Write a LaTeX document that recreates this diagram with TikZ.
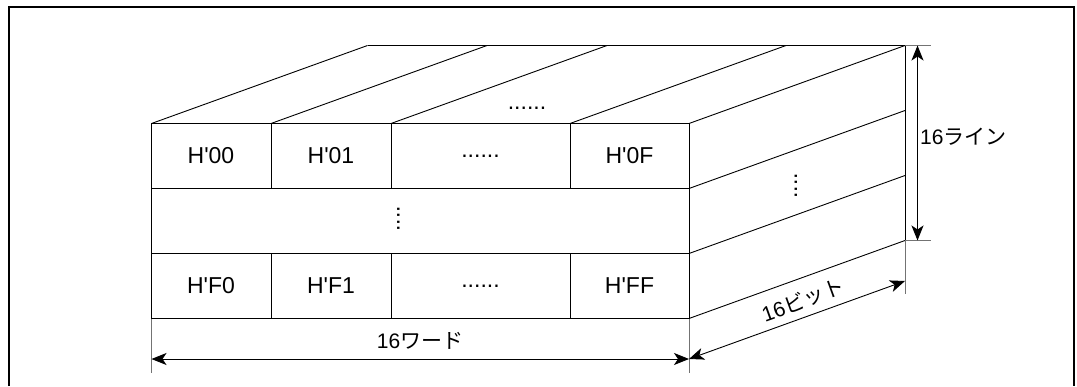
\documentclass[tikz,border=0pt]{standalone}
\usepackage{fontspec}
\setmainfont{Liberation Sans}
\newfontfamily\jpfont{Noto Sans CJK JP}
\usetikzlibrary{arrows.meta}

\newcommand\pktreihe{......}

\tikzset{
  cube/.style={line width=0.9pt},
  ext/.style={line width=0.8pt, black!55},
  dim/.style={line width=0.9pt,
    {Stealth[length=15pt,width=12pt,inset=4pt]}-{Stealth[length=15pt,width=12pt,inset=4pt]}},
  lbl/.style={font=\fontsize{21}{25}\selectfont, inner sep=0pt},
  cell/.style={font=\fontsize{23}{27}\selectfont, inner sep=0pt},
}

\begin{document}
\begin{tikzpicture}[x=1pt,y=-1pt]
    \useasboundingbox (0,0) rectangle (1077,386);
    % Rahmen
    \draw[line width=1.6pt] (9,386) -- (9,7) -- (1074,7) -- (1074,386);
    % Vorderseite
    \draw[cube] (151.5,123.5) rectangle (689,318.5);
    \foreach \y in {188.5,253.5}
      \draw[cube] (151.5,\y) -- (689,\y);
    \foreach \x in {271,391,570} {
      \draw[cube] (\x,123.5) -- (\x,188.5);
      \draw[cube] (\x,253.5) -- (\x,318.5);
    }
    % Oberseite
    \foreach \x in {151.5,271,391,570,689}
      \draw[cube] (\x,123.5) -- ++(216,-78);
    \draw[cube] (367.5,45.5) -- (905,45.5);
    % rechte Seite
    \foreach \y in {188.5,253.5,318.5}
      \draw[cube] (689,\y) -- ++(216,-78);
    \draw[cube] (905,45.5) -- (905,240.5);
    % Hilfslinien
    \draw[ext] (905,45.5) -- (931,45.5);
    \draw[ext] (905,240.5) -- (931,240.5);
    \draw[ext] (905,240.5) -- (905,294);
    \draw[ext] (151.5,318.5) -- (151.5,373);
    \draw[ext] (689,318.5) -- (689,373);
    % Zellen
    \foreach \x/\xtext/\n in {211/H\textquotesingle 00/h00,331/H\textquotesingle 01/h01,
        480.5/\pktreihe/hdots,629.5/H\textquotesingle 0F/h0f}
      \node[cell] (\n) at (\x,156) {\xtext};
    \foreach \x/\xtext/\n in {211/H\textquotesingle F0/hf0,331/H\textquotesingle F1/hf1,
        480.5/\pktreihe/fdots,629.5/H\textquotesingle FF/hff}
      \node[cell] (\n) at (\x,286) {\xtext};
    \node[cell] (topdots) at (527,108) {\pktreihe};
    \node[cell,rotate=90] (middots) at (398.5,219) {....};
    \node[cell,rotate=90] (sidedots) at (796,186) {....};
    % Masspfeile
    \coordinate (wl) at (151.5,359);
    \coordinate (wr) at (689,359);
    \coordinate (bb) at (905,281);
    \coordinate (lt) at (917.5,45.5);
    \coordinate (lb) at (917.5,240.5);
    \draw[dim] (wl) -- (wr);
    \draw[dim] (wr) -- (bb);
    \draw[dim] (lt) -- (lb);
    \node[lbl] (wort) at (420,341) {16\jpfont ワード};
    \node[lbl,anchor=west] (zeile) at (920,137) {16\jpfont ライン};
    \node[lbl,rotate=19.9] (bit) at (803,300) {16\jpfont ビット};
\end{tikzpicture}
\end{document}
